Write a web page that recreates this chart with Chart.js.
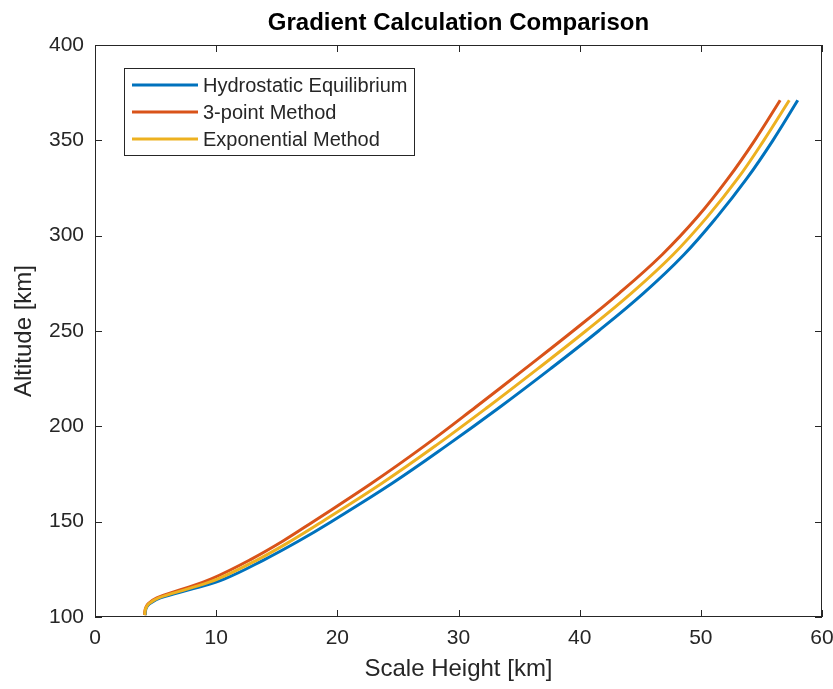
<!DOCTYPE html>
<html>
<head>
<meta charset="utf-8">
<script src="https://cdn.jsdelivr.net/npm/chart.js@4.4.1/dist/chart.umd.min.js"></script>
<style>
  html, body { margin: 0; padding: 0; background: #fff; }
  #wrap { width: 833px; height: 689px; }
</style>
</head>
<body>
<div id="wrap"><canvas id="grad"></canvas></div>
<script>
// altitudes [km] shared by all three curves
const altitude = [101, 103, 105, 107, 110, 115, 120, 130, 140, 150, 170, 190, 210, 230, 250, 270, 290, 310, 330, 350, 371];

// scale height [km]
const hydrostatic = [4.15, 4.16, 4.25, 4.5, 5.4, 8.2, 10.7, 13.95, 16.85, 19.5, 24.5, 29.05, 33.4, 37.55, 41.55, 45.3, 48.6, 51.35, 53.8, 55.95, 58.0];
const threePoint  = [4.1, 4.11, 4.2, 4.4, 5.1, 7.4, 9.6, 12.8, 15.55, 18.0, 22.8, 27.25, 31.4, 35.45, 39.45, 43.3, 46.8, 49.75, 52.25, 54.45, 56.55];
const exponential = [4.12, 4.13, 4.22, 4.45, 5.25, 7.8, 10.15, 13.4, 16.2, 18.75, 23.65, 28.15, 32.4, 36.5, 40.5, 44.3, 47.7, 50.55, 53.05, 55.2, 57.3];

const seriesNames = ["Hydrostatic Equilibrium", "3-point Method", "Exponential Method"];
const xTicks = [0, 10, 20, 30, 40, 50, 60];
const yTicks = [100, 150, 200, 250, 300, 350, 400];
const chartTitle = "Gradient Calculation Comparison";

const colors = ["#0072BD", "#D95319", "#EDB120"];
const axisColor = "#262626";
const fontFam = "'Liberation Sans', Arial, Helvetica, sans-serif";

function pts(xs) {
    return altitude.map((a, i) => ({ x: xs[i], y: a }));
}

// MATLAB-like box, inward ticks, title and legend
const matlabBox = {
    id: "matlabBox",
    afterDraw(chart) {
        const { ctx, chartArea: a, scales: { x, y } } = chart;
        const tl = 7;
        ctx.save();
        ctx.strokeStyle = axisColor;
        ctx.lineWidth = 1;
        ctx.strokeRect(Math.round(a.left) + 0.5, Math.round(a.top) + 0.5,
            Math.round(a.width) - 1, Math.round(a.height) - 1);
        ctx.beginPath();
        xTicks.forEach(v => {
            const px = Math.round(x.getPixelForValue(v)) + 0.5;
            ctx.moveTo(px, a.bottom); ctx.lineTo(px, a.bottom - tl);
            ctx.moveTo(px, a.top); ctx.lineTo(px, a.top + tl);
        });
        yTicks.forEach(v => {
            const py = Math.round(y.getPixelForValue(v)) + 0.5;
            ctx.moveTo(a.left, py); ctx.lineTo(a.left + tl, py);
            ctx.moveTo(a.right, py); ctx.lineTo(a.right - tl, py);
        });
        ctx.stroke();

        // title, centred over the axes
        ctx.fillStyle = "#000";
        ctx.font = "bold 24px " + fontFam;
        ctx.textAlign = "center";
        ctx.textBaseline = "middle";
        ctx.fillText(chartTitle, (a.left + a.right) / 2, 23);

        // legend
        const lx = a.left + 29, ly = a.top + 23, lw = 290, lh = 87;
        ctx.fillStyle = "#fff";
        ctx.fillRect(lx, ly, lw, lh);
        ctx.strokeRect(lx + 0.5, ly + 0.5, lw, lh);
        ctx.font = "20px " + fontFam;
        ctx.textAlign = "left";
        chart.data.datasets.forEach((ds, i) => {
            const cy = ly + 17 + i * 27;
            ctx.strokeStyle = ds.borderColor;
            ctx.lineWidth = 3;
            ctx.beginPath();
            ctx.moveTo(lx + 8, cy); ctx.lineTo(lx + 74, cy);
            ctx.stroke();
            ctx.fillStyle = axisColor;
            ctx.fillText(ds.label, lx + 79, cy + 1);
        });
        ctx.restore();
    }
};

const series = [hydrostatic, threePoint, exponential];

new Chart(document.getElementById("grad"), {
    type: "scatter",
    data: {
        datasets: series.map((s, i) => ({
            label: seriesNames[i],
            data: pts(s),
            showLine: true,
            borderColor: colors[i],
            backgroundColor: colors[i],
            borderWidth: 3,
            pointRadius: 0,
            tension: 0.4,
            order: 3 - i
        }))
    },
    options: {
        responsive: true,
        maintainAspectRatio: false,
        animation: false,
        layout: { padding: { top: 45, right: 11, bottom: 0, left: 0 } },
        plugins: {
            legend: { display: false },
            tooltip: { enabled: false },
            title: { display: false }
        },
        scales: {
            x: {
                type: "linear",
                min: 0, max: 60,
                afterBuildTicks(scale) { scale.ticks = xTicks.map(v => ({ value: v })); },
                afterFit(scale) {
                    scale.height = 72;
                    scale.paddingRight = 0;
                    scale.paddingLeft = 0;
                },
                grid: { display: false, drawTicks: false },
                border: { display: false },
                ticks: { color: axisColor, padding: 9, font: { family: fontFam, size: 21 } },
                title: {
                    display: true, text: "Scale Height [km]", color: axisColor,
                    font: { family: fontFam, size: 24 }, padding: { top: 4, bottom: 5 }
                }
            },
            y: {
                type: "linear",
                min: 100, max: 400,
                afterBuildTicks(scale) { scale.ticks = yTicks.map(v => ({ value: v })); },
                afterFit(scale) {
                    scale.width = 95;
                    scale.paddingTop = 0;
                    scale.paddingBottom = 0;
                },
                grid: { display: false, drawTicks: false },
                border: { display: false },
                ticks: { color: axisColor, padding: 11, font: { family: fontFam, size: 21 } },
                title: {
                    display: true, text: "Altitude [km]", color: axisColor,
                    font: { family: fontFam, size: 24 }, padding: { top: 10, bottom: 0 }
                }
            }
        }
    },
    plugins: [matlabBox]
});
</script>
</body>
</html>
